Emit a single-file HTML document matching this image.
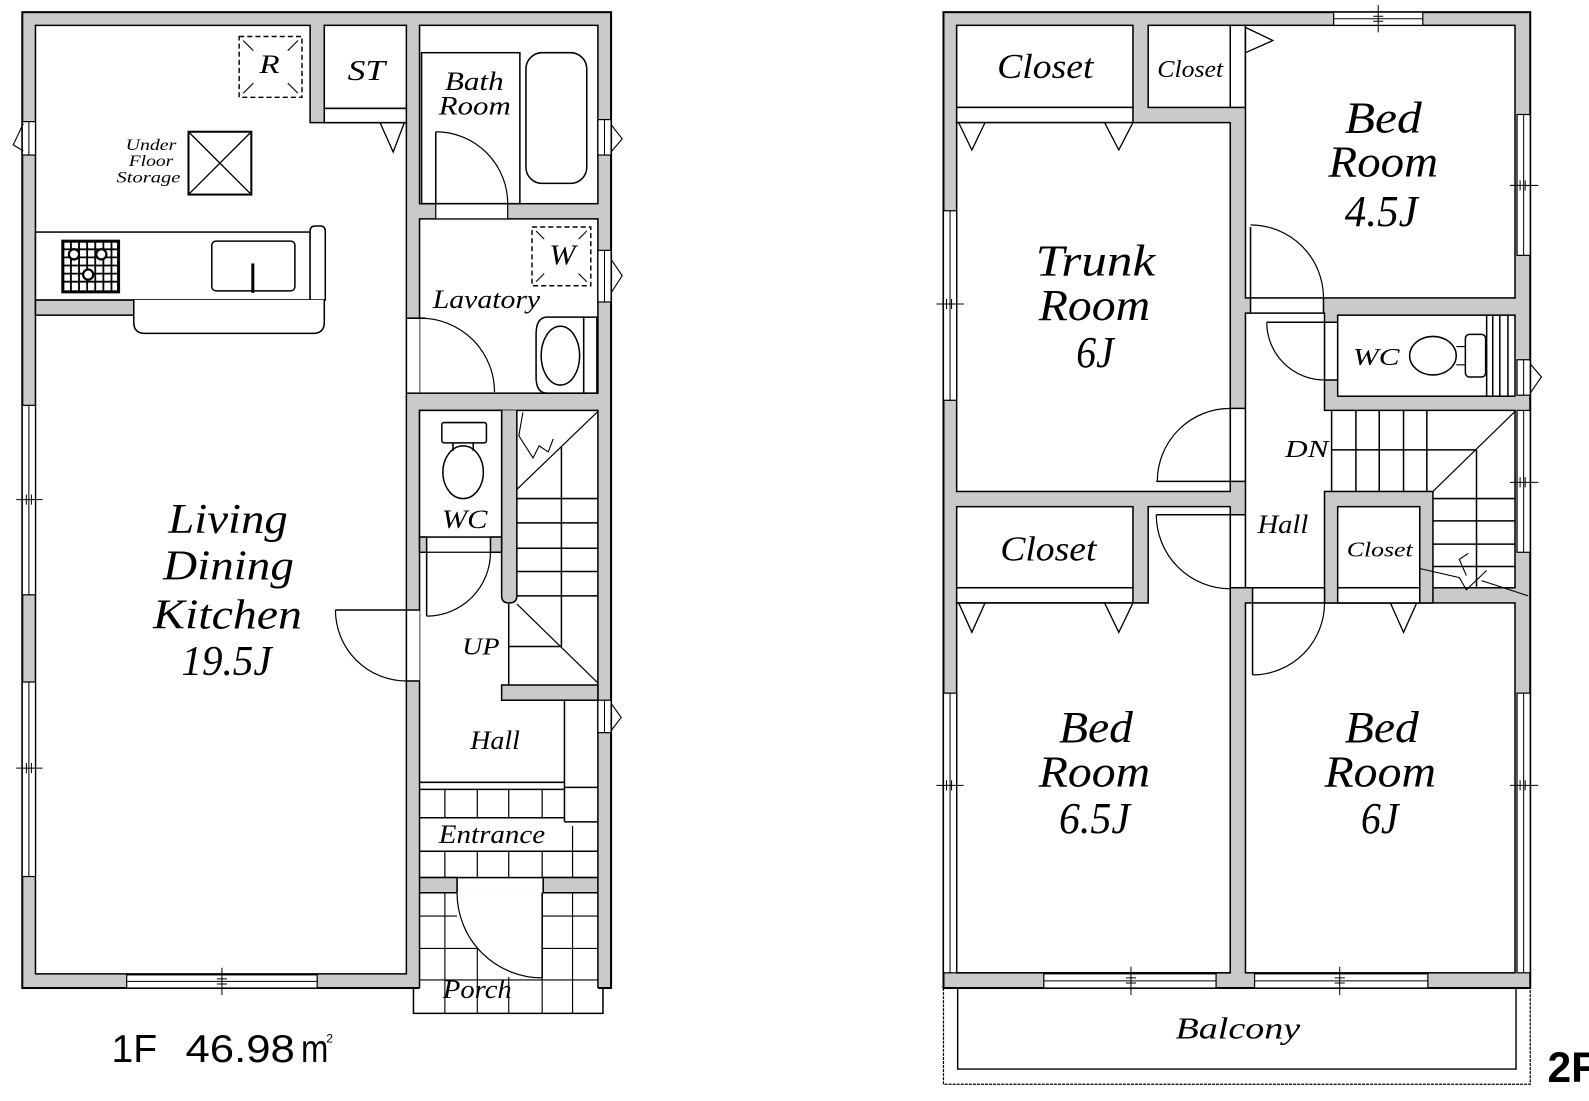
<!DOCTYPE html>
<html><head><meta charset="utf-8"><style>
html,body{margin:0;padding:0;background:#fff;overflow:hidden}
svg{display:block}
.t{font-family:"Liberation Serif",serif;font-style:italic;fill:#000;stroke:none}
.s{font-family:"Liberation Sans",sans-serif;fill:#000;stroke:none}
</style></head><body>
<svg xmlns="http://www.w3.org/2000/svg" width="1589" height="1101" viewBox="0 0 1568 1086.5" preserveAspectRatio="none">
<rect x="0" y="0" width="1568" height="1087" fill="#fff"/>
<g stroke="#000" stroke-width="1.5" fill="none">
<!-- ================= 1F ================= -->
<rect x="22" y="12" width="581" height="963" fill="#cacaca" stroke-width="2"/>
<path d="M35 25H306V121H401V961H35Z" fill="#fff"/>
<rect x="320" y="25" width="81" height="82" fill="#fff"/>
<rect x="320" y="107" width="81" height="14" fill="#fff"/>
<rect x="414" y="25" width="176" height="176" fill="#fff"/>
<rect x="414" y="216" width="176" height="172" fill="#fff"/>
<rect x="414" y="405" width="176" height="461" fill="#fff"/>
<rect x="414" y="881" width="176" height="96" fill="#fff" stroke="none"/>
<line x1="414" y1="881" x2="414" y2="975"/>
<line x1="590" y1="881" x2="590" y2="975"/>
<path d="M408 975V1000H595V975"/>
<!-- walls added -->
<rect x="35" y="296" width="97" height="15" fill="#cacaca"/>
<path d="M495 405V588Q495 595 502.5 595Q510 595 510 588V405" fill="#cacaca"/>
<rect x="414" y="405" width="81" height="125" fill="#fff"/>
<rect x="414" y="530" width="7" height="15" fill="#cacaca"/>
<rect x="484" y="530" width="11" height="15" fill="#cacaca"/>
<rect x="495" y="676" width="95" height="15" fill="#cacaca"/>
<rect x="414" y="866" width="37" height="15" fill="#cacaca"/>
<rect x="536" y="866" width="54" height="15" fill="#cacaca"/>
<rect x="452" y="867" width="83" height="14" fill="#fff" stroke="none"/>
<!-- door openings 1F -->
<rect x="402" y="602" width="12" height="70" fill="#fff" stroke="none"/>
<line x1="331" y1="602" x2="414" y2="602"/>
<line x1="401" y1="672" x2="414" y2="672"/>
<path d="M331 602A70 70 0 0 0 401 672" stroke-width="1.2"/>
<rect x="402" y="314" width="12" height="74" fill="#fff" stroke="none"/>
<line x1="401" y1="314" x2="420" y2="314"/>
<line x1="401" y1="388" x2="414" y2="388"/>
<path d="M415 314A73 73 0 0 1 488 387" stroke-width="1.2"/>
<rect x="430" y="201" width="71" height="15" fill="#fff" stroke-width="1.2"/>
<line x1="430" y1="130" x2="430" y2="201"/>
<path d="M430 130A71 71 0 0 1 501 201" stroke-width="1.2"/>
<!-- WC door -->
<line x1="421" y1="545" x2="484" y2="545" stroke-width="1.2"/>
<line x1="421" y1="545" x2="421" y2="608"/>
<path d="M421 608A63 63 0 0 0 484 545" stroke-width="1.2"/>
<!-- ST -->
<polyline points="375,121 388,150 399,121" stroke-width="1.3"/>
<!-- R box -->
<rect x="236" y="36" width="62" height="60" stroke-dasharray="5 3" stroke-width="1.4"/>
<path d="M240 40L250 50M294 40L284 50M240 92L250 82M294 92L284 82" stroke-width="1.1"/>
<!-- Under floor box -->
<rect x="186" y="130" width="62" height="62" stroke-width="2"/>
<path d="M186 130L248 192M248 130L186 192" stroke-width="1.3"/>
<!-- counter -->
<rect x="35" y="229" width="271" height="67" fill="#fff"/>
<path d="M306 296V228Q306 223 311 223H316Q321 223 321 228V296Z" fill="#fff"/>
<path d="M132 296V318Q132 329 143 329H309Q320 329 320 318V296" fill="#fff"/>
<rect x="62" y="238" width="55" height="50" fill="#fff" stroke-width="3"/>
<path d="M62 246H117M62 254H117M62 262H117M62 270H117M62 278H117M70 238V288M78 238V288M86 238V288M94 238V288M102 238V288M110 238V288" stroke-width="1.8"/>
<circle cx="73" cy="251" r="5" fill="#fff" stroke-width="2.2"/>
<circle cx="100" cy="251" r="5" fill="#fff" stroke-width="2.2"/>
<circle cx="87" cy="271" r="5" fill="#fff" stroke-width="2.2"/>
<rect x="209" y="238" width="82" height="49" rx="4" fill="#fff"/>
<rect x="248" y="260" width="3" height="29" fill="#000" stroke="none"/>
<!-- bath -->
<rect x="416" y="52" width="97" height="149"/>
<rect x="519" y="52" width="60" height="129" rx="16"/>
<!-- lavatory -->
<rect x="525" y="224" width="58" height="58" stroke-dasharray="5 3" stroke-width="1.4"/>
<path d="M529 228L537 236M579 228L571 236M529 278L537 270M579 278L571 270" stroke-width="1.1"/>
<path d="M576 313H540Q529 313 529 330V372Q529 388 540 388H576Z" fill="#fff"/>
<rect x="576" y="313" width="13" height="75"/>
<ellipse cx="553" cy="351" rx="19" ry="29"/>
<!-- WC toilet 1F -->
<rect x="436" y="417" width="44" height="20" rx="2"/>
<line x1="447" y1="437" x2="447" y2="445"/>
<line x1="467" y1="437" x2="467" y2="445"/>
<ellipse cx="457" cy="466" rx="20" ry="26"/>
<!-- stairs 1F -->
<path d="M510 492H590M510 516H590M510 541H590M510 564H590M510 588H590"/>
<line x1="510" y1="483" x2="590" y2="406" stroke-width="1.2"/>
<line x1="554" y1="441" x2="554" y2="638"/>
<line x1="510" y1="596" x2="590" y2="674" stroke-width="1.2"/>
<line x1="502" y1="638" x2="554" y2="638"/>
<line x1="502" y1="596" x2="502" y2="676"/>
<polyline points="516,407 513,424 512,430 526,452 532,440 541,446 546,433" stroke-width="1.1"/>
<!-- hall / entrance -->
<line x1="557" y1="691" x2="557" y2="811"/>
<line x1="414" y1="772" x2="557" y2="772"/>
<line x1="414" y1="779" x2="557" y2="779"/>
<line x1="557" y1="777" x2="590" y2="777"/>
<line x1="414" y1="807" x2="557" y2="807"/>
<line x1="557" y1="811" x2="590" y2="811"/>
<line x1="414" y1="840" x2="590" y2="840"/>
<path d="M439 779V807M471 779V807M502 779V807M535 779V807M439 840V866M471 840V866M502 840V866M535 840V866M565 815V866" stroke-width="1.2"/>
<!-- porch tiles -->
<path d="M439 881V1000M471 936V1000M502 964V1000M535 881V1000M565 881V1000M414 904H451M535 904H590M414 936H471M535 936H590M414 967H590" stroke-width="1.1"/>
<path d="M535 881L451 881A84 84 0 0 0 535 965Z" fill="#fff" stroke="none"/>
<line x1="535" y1="881" x2="535" y2="965"/>
<path d="M451 881A84 84 0 0 0 535 965" stroke-width="1.2"/>
<!-- windows 1F -->
<rect x="22" y="120" width="13" height="33" fill="#fff" stroke-width="1.2"/>
<line x1="28.5" y1="120" x2="28.5" y2="153" stroke-width="1"/>
<polyline points="23,122 13,143 23,149" stroke-width="1.1"/>
<rect x="22" y="400" width="13" height="187" fill="#fff" stroke-width="1.2"/>
<line x1="28.5" y1="400" x2="28.5" y2="587" stroke-width="1"/>
<path d="M16 493H42M26 488V498M31 488V498" stroke-width="1"/>
<rect x="22" y="673" width="13" height="192" fill="#fff" stroke-width="1.2"/>
<line x1="28.5" y1="673" x2="28.5" y2="865" stroke-width="1"/>
<path d="M16 758H42M26 753V763M31 753V763" stroke-width="1"/>
<rect x="125" y="962" width="188" height="13" fill="#fff" stroke-width="1.2"/>
<line x1="125" y1="968.5" x2="313" y2="968.5" stroke-width="1"/>
<path d="M219 955V982M214 966H224M214 971H224" stroke-width="1"/>
<rect x="590" y="118" width="13" height="35" fill="#fff" stroke-width="1.2"/>
<line x1="596.5" y1="118" x2="596.5" y2="153" stroke-width="1"/>
<polyline points="603,123 614,137 603,150" stroke-width="1.1"/>
<rect x="590" y="247" width="13" height="51" fill="#fff" stroke-width="1.2"/>
<line x1="596.5" y1="247" x2="596.5" y2="298" stroke-width="1"/>
<polyline points="603,256 614,272 603,289" stroke-width="1.1"/>
<rect x="590" y="691" width="13" height="32" fill="#fff" stroke-width="1.2"/>
<line x1="596.5" y1="691" x2="596.5" y2="723" stroke-width="1"/>
<polyline points="603,694 613,708 603,721" stroke-width="1.1"/>

<!-- ================= 2F ================= -->
<rect x="931" y="12" width="579" height="963" fill="#cacaca" stroke-width="2"/>
<rect x="944" y="25" width="174" height="81" fill="#fff"/>
<rect x="944" y="106" width="174" height="15" fill="#fff"/>
<rect x="1133" y="25" width="81" height="81" fill="#fff"/>
<rect x="1214" y="25" width="15" height="81" fill="#fff"/>
<rect x="944" y="121" width="270" height="364" fill="#fff"/>
<rect x="1229" y="25" width="266" height="269" fill="#fff"/>
<path d="M1229 309H1307V405H1495V580H1229Z" fill="#fff"/>
<rect x="1320" y="311" width="175" height="80" fill="#fff"/>
<rect x="944" y="500" width="174" height="80" fill="#fff"/>
<rect x="944" y="580" width="174" height="15" fill="#fff"/>
<path d="M944 595H1133V500H1214V960H944Z" fill="#fff"/>
<rect x="1229" y="595" width="266" height="365" fill="#fff"/>
<rect x="1307" y="485" width="107" height="110" fill="#cacaca"/>
<rect x="1320" y="500" width="81" height="80" fill="#fff"/>
<rect x="1320" y="580" width="81" height="15" fill="#fff"/>
<!-- closet triangles -->
<polyline points="946,121 959,148 972,121" stroke-width="1.3"/>
<polyline points="1090,121 1104,148 1118,121" stroke-width="1.3"/>
<polyline points="946,595 959,624 972,595" stroke-width="1.3"/>
<polyline points="1090,595 1104,624 1118,595" stroke-width="1.3"/>
<polyline points="1372,595 1385,624 1398,595" stroke-width="1.3"/>
<polyline points="1229,27 1256,40 1229,52" stroke-width="1.3"/>
<!-- doors 2F -->
<rect x="1215" y="403" width="13" height="72" fill="#fff" stroke="none"/>
<line x1="1214" y1="403" x2="1229" y2="403"/>
<line x1="1141" y1="475" x2="1229" y2="475"/>
<path d="M1214 403A72 72 0 0 0 1142 475" stroke-width="1.2"/>
<rect x="1215" y="508" width="13" height="72" fill="#fff" stroke="none"/>
<line x1="1141" y1="508" x2="1229" y2="508"/>
<line x1="1214" y1="580" x2="1229" y2="580"/>
<path d="M1141 508A73 73 0 0 0 1214 581" stroke-width="1.2"/>
<rect x="1234" y="295" width="72" height="13" fill="#fff" stroke="none"/>
<line x1="1234" y1="294" x2="1234" y2="309"/>
<line x1="1306" y1="294" x2="1306" y2="309"/>
<line x1="1234" y1="224" x2="1234" y2="294"/>
<path d="M1234 222A72 72 0 0 1 1306 294" stroke-width="1.2"/>
<rect x="1308" y="318" width="11" height="57" fill="#fff" stroke="none"/>
<line x1="1250" y1="318" x2="1320" y2="318"/>
<line x1="1307" y1="375" x2="1320" y2="375"/>
<path d="M1250 318A57 57 0 0 0 1307 375" stroke-width="1.2"/>
<rect x="1236" y="581" width="71" height="13" fill="#fff" stroke="none"/>
<line x1="1236" y1="580" x2="1236" y2="666"/>
<line x1="1307" y1="580" x2="1307" y2="595"/>
<path d="M1307 595A71 71 0 0 1 1236 666" stroke-width="1.2"/>
<!-- WC 2F -->
<ellipse cx="1414" cy="351" rx="23" ry="19"/>
<path d="M1437 342H1446M1437 360H1446" stroke-width="1.2"/>
<rect x="1446" y="330" width="20" height="42" rx="4"/>
<path d="M1467 311V391M1473 311V391M1480 311V391M1488 311V391"/>
<!-- stairs 2F -->
<path d="M1314 405V485M1338 405V485M1361 405V485M1385 405V485M1408 405V485"/>
<line x1="1314" y1="444" x2="1457" y2="444"/>
<line x1="1414" y1="485" x2="1495" y2="406" stroke-width="1.2"/>
<line x1="1457" y1="444" x2="1457" y2="579"/>
<path d="M1414 492H1495M1414 514H1495M1414 537H1495M1414 559H1495"/>
<polyline points="1401,561 1440,570 1447,582 1467,563" stroke-width="1.1"/>
<polyline points="1462,573 1508,588" stroke-width="1.1"/>
<polyline points="1449,546 1440,552 1447,568" stroke-width="1.1"/>
<!-- windows 2F -->
<rect x="1316" y="12" width="88" height="13" fill="#fff" stroke-width="1.2"/>
<line x1="1316" y1="18.5" x2="1404" y2="18.5" stroke-width="1"/>
<path d="M1360 5V32M1355 16H1365M1355 21H1365" stroke-width="1"/>
<rect x="1497" y="113" width="13" height="139" fill="#fff" stroke-width="1.2"/>
<line x1="1503.5" y1="113" x2="1503.5" y2="252" stroke-width="1"/>
<path d="M1490 183H1518M1500 178V188M1505 178V188" stroke-width="1"/>
<rect x="1497" y="355" width="13" height="35" fill="#fff" stroke-width="1.2"/>
<line x1="1503.5" y1="355" x2="1503.5" y2="390" stroke-width="1"/>
<polyline points="1510,359 1521,372 1510,388" stroke-width="1.1"/>
<rect x="1497" y="405" width="13" height="140" fill="#fff" stroke-width="1.2"/>
<line x1="1503.5" y1="405" x2="1503.5" y2="545" stroke-width="1"/>
<path d="M1490 476H1518M1500 471V481M1505 471V481" stroke-width="1"/>
<rect x="1497" y="684" width="13" height="276" fill="#fff" stroke-width="1.2"/>
<line x1="1503.5" y1="684" x2="1503.5" y2="960" stroke-width="1"/>
<path d="M1490 775H1518M1500 770V780M1505 770V780" stroke-width="1"/>
<rect x="931" y="208" width="13" height="187" fill="#fff" stroke-width="1.2"/>
<line x1="937.5" y1="208" x2="937.5" y2="395" stroke-width="1"/>
<path d="M924 300H951M934 295V305M939 295V305" stroke-width="1"/>
<rect x="931" y="684" width="13" height="276" fill="#fff" stroke-width="1.2"/>
<line x1="937.5" y1="684" x2="937.5" y2="960" stroke-width="1"/>
<path d="M924 775H951M934 770V780M939 770V780" stroke-width="1"/>
<rect x="1030" y="961" width="170" height="14" fill="#fff" stroke-width="1.2"/>
<line x1="1030" y1="968" x2="1200" y2="968" stroke-width="1"/>
<path d="M1116 954V982M1111 965H1121M1111 970H1121" stroke-width="1"/>
<rect x="1238" y="961" width="171" height="14" fill="#fff" stroke-width="1.2"/>
<line x1="1238" y1="968" x2="1409" y2="968" stroke-width="1"/>
<path d="M1322 954V982M1317 965H1327M1317 970H1327" stroke-width="1"/>
<!-- balcony -->
<path d="M931 975V1070H1510V975" stroke-width="1.2" stroke-dasharray="3 1"/>
<path d="M945 975V1055H1496V975" stroke-width="1.4"/>
</g>

<!-- ========== TEXT 1F ========== -->
<text class="t" x="256" y="72" font-size="26" textLength="20" lengthAdjust="spacingAndGlyphs">R</text>
<text class="t" x="343" y="79" font-size="28" textLength="37" lengthAdjust="spacingAndGlyphs">ST</text>
<text class="t" x="439" y="89" font-size="26" textLength="58" lengthAdjust="spacingAndGlyphs">Bath</text>
<text class="t" x="433" y="113" font-size="26" textLength="71" lengthAdjust="spacingAndGlyphs">Room</text>
<text class="t" x="124" y="148" font-size="16" textLength="50" lengthAdjust="spacingAndGlyphs">Under</text>
<text class="t" x="127" y="164" font-size="16" textLength="44" lengthAdjust="spacingAndGlyphs">Floor</text>
<text class="t" x="115" y="180" font-size="16" textLength="63" lengthAdjust="spacingAndGlyphs">Storage</text>
<text class="t" x="542" y="261" font-size="28" textLength="26" lengthAdjust="spacingAndGlyphs">W</text>
<text class="t" x="427" y="304" font-size="26" textLength="106" lengthAdjust="spacingAndGlyphs">Lavatory</text>
<text class="t" x="436" y="521" font-size="26" textLength="45" lengthAdjust="spacingAndGlyphs">WC</text>
<text class="t" x="456" y="646" font-size="24" textLength="37" lengthAdjust="spacingAndGlyphs">UP</text>
<text class="t" x="464" y="739" font-size="26" textLength="49" lengthAdjust="spacingAndGlyphs">Hall</text>
<text class="t" x="433" y="832" font-size="26" textLength="105" lengthAdjust="spacingAndGlyphs">Entrance</text>
<text class="t" x="437" y="985" font-size="26" textLength="68" lengthAdjust="spacingAndGlyphs">Porch</text>
<text class="t" x="166" y="526" font-size="42" textLength="118" lengthAdjust="spacingAndGlyphs">Living</text>
<text class="t" x="161" y="572" font-size="42" textLength="129" lengthAdjust="spacingAndGlyphs">Dining</text>
<text class="t" x="151" y="620" font-size="42" textLength="147" lengthAdjust="spacingAndGlyphs">Kitchen</text>
<text class="t" x="179" y="666" font-size="42" textLength="89" lengthAdjust="spacingAndGlyphs">19.5J</text>
<text class="s" x="110" y="1048" font-size="38" textLength="45" lengthAdjust="spacingAndGlyphs">1F</text>
<text class="s" x="183" y="1048" font-size="38" textLength="108" lengthAdjust="spacingAndGlyphs">46.98</text>
<text class="s" x="297" y="1048" font-size="38" textLength="27" lengthAdjust="spacingAndGlyphs">m</text>
<text class="s" x="322" y="1029" font-size="12">2</text>

<!-- ========== TEXT 2F ========== -->
<text class="t" x="984" y="77" font-size="34" textLength="95" lengthAdjust="spacingAndGlyphs">Closet</text>
<text class="t" x="1142" y="76" font-size="24" textLength="65" lengthAdjust="spacingAndGlyphs">Closet</text>
<text class="t" x="1022" y="272" font-size="44" textLength="118" lengthAdjust="spacingAndGlyphs">Trunk</text>
<text class="t" x="1025" y="316" font-size="44" textLength="110" lengthAdjust="spacingAndGlyphs">Room</text>
<text class="t" x="1062" y="362" font-size="44" textLength="37" lengthAdjust="spacingAndGlyphs">6J</text>
<text class="t" x="1327" y="131" font-size="44" textLength="76" lengthAdjust="spacingAndGlyphs">Bed</text>
<text class="t" x="1311" y="174" font-size="44" textLength="108" lengthAdjust="spacingAndGlyphs">Room</text>
<text class="t" x="1327" y="223" font-size="44" textLength="72" lengthAdjust="spacingAndGlyphs">4.5J</text>
<text class="t" x="1335" y="360" font-size="24" textLength="46" lengthAdjust="spacingAndGlyphs">WC</text>
<text class="t" x="1268" y="451" font-size="24" textLength="43" lengthAdjust="spacingAndGlyphs">DN</text>
<text class="t" x="1241" y="526" font-size="26" textLength="50" lengthAdjust="spacingAndGlyphs">Hall</text>
<text class="t" x="1329" y="549" font-size="21" textLength="65" lengthAdjust="spacingAndGlyphs">Closet</text>
<text class="t" x="987" y="553" font-size="34" textLength="95" lengthAdjust="spacingAndGlyphs">Closet</text>
<text class="t" x="1045" y="732" font-size="44" textLength="73" lengthAdjust="spacingAndGlyphs">Bed</text>
<text class="t" x="1025" y="776" font-size="44" textLength="110" lengthAdjust="spacingAndGlyphs">Room</text>
<text class="t" x="1045" y="822" font-size="44" textLength="70" lengthAdjust="spacingAndGlyphs">6.5J</text>
<text class="t" x="1327" y="732" font-size="44" textLength="73" lengthAdjust="spacingAndGlyphs">Bed</text>
<text class="t" x="1307" y="776" font-size="44" textLength="110" lengthAdjust="spacingAndGlyphs">Room</text>
<text class="t" x="1343" y="822" font-size="44" textLength="37" lengthAdjust="spacingAndGlyphs">6J</text>
<text class="t" x="1160" y="1025" font-size="30" textLength="123" lengthAdjust="spacingAndGlyphs">Balcony</text>
<text class="s" x="1527" y="1068" font-size="42" font-weight="bold">2F</text>
</svg>
</body></html>
